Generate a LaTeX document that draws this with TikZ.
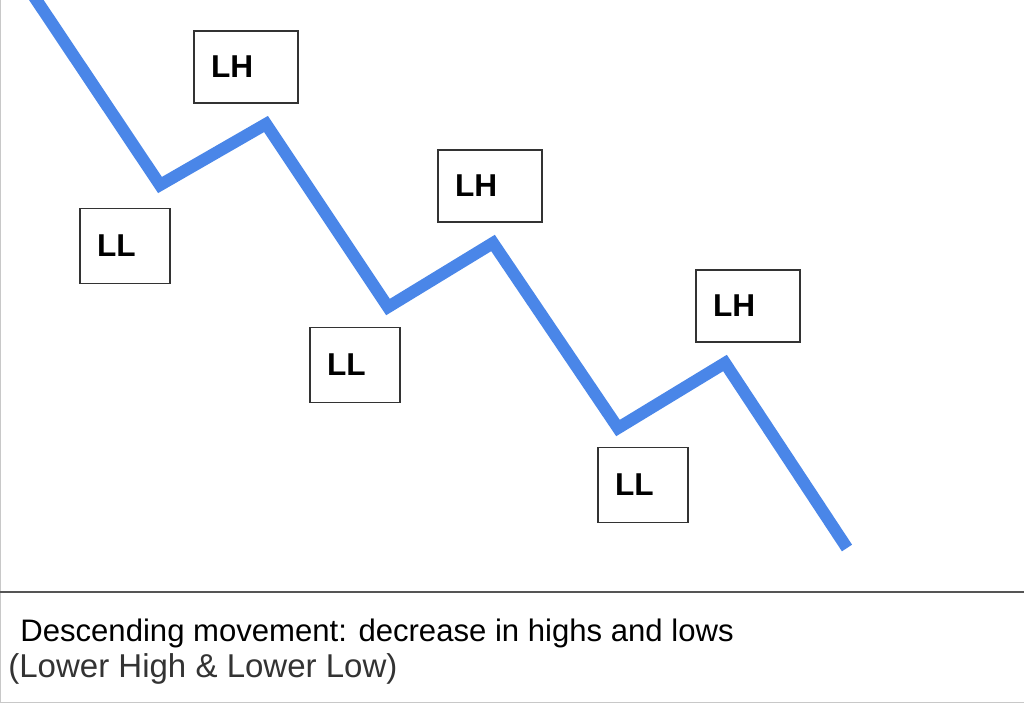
\documentclass[tikz,border=0pt]{standalone}
\usepackage{fontspec}
\setmainfont{Liberation Sans}
\usetikzlibrary{positioning}
\definecolor{trendblue}{HTML}{4A86E8}
\definecolor{framegray}{HTML}{C8C8C8}
\definecolor{rulegray}{HTML}{555555}
\tikzset{
  hbox/.style={draw=black!80, line width=0.85pt, rectangle, fill=white, font=\bfseries\fontsize{18}{20}\selectfont, minimum width=2.08cm, minimum height=1.44cm, text width=1.4cm, inner xsep=0.34cm, inner ysep=0pt, align=left, text depth=0pt},
  lbox/.style={hbox, minimum width=1.8cm, minimum height=1.5cm, text width=1.12cm},
  trend/.style={trendblue, line width=6.9pt, line join=miter},
  capn/.style={anchor=base west, inner sep=0pt, font=\fontsize{17.7}{20}\selectfont},
}

\begin{document}
\begin{tikzpicture}[x=0.02cm, y=-0.02cm]
\useasboundingbox (0,0) rectangle (1024,703);
% frame and caption rule
\draw[framegray, line width=0.6pt] (0.5,0) -- (0.5,702.5) -- (1024,702.5);
\draw[rulegray, line width=1.2pt] (0,592) -- (1024,592);
% turning points of the trend
\coordinate (s) at (29,-11);
\coordinate (ll1) at (160,185);
\coordinate (lh1) at (266,124);
\coordinate (ll2) at (388,307);
\coordinate (lh2) at (493,243);
\coordinate (ll3) at (618,428);
\coordinate (lh3) at (725,363);
\coordinate (e) at (847,548);
\begin{scope}
\clip (0,0) rectangle (1024,590);
\draw[trend] (s) -- (ll1) -- (lh1) -- (ll2) -- (lh2) -- (ll3) -- (lh3) -- (e);
\end{scope}
% labels
\node[hbox] (h1) at (246,67) {LH};
\node[hbox] (h2) at (490,186) {LH};
\node[hbox] (h3) at (748,306) {LH};
\node[lbox] (l1) at (125,246) {LL};
\node[lbox] (l2) at (355,365) {LL};
\node[lbox] (l3) at (643,485) {LL};
% caption
\node[capn] (title) at (20,641) {Descending movement: decrease in highs and lows};
\node[capn, font=\fontsize{18.8}{20}\selectfont, text=black!80] (sub) at (8,677) {(Lower High \& Lower Low)};
\end{tikzpicture}
\end{document}
